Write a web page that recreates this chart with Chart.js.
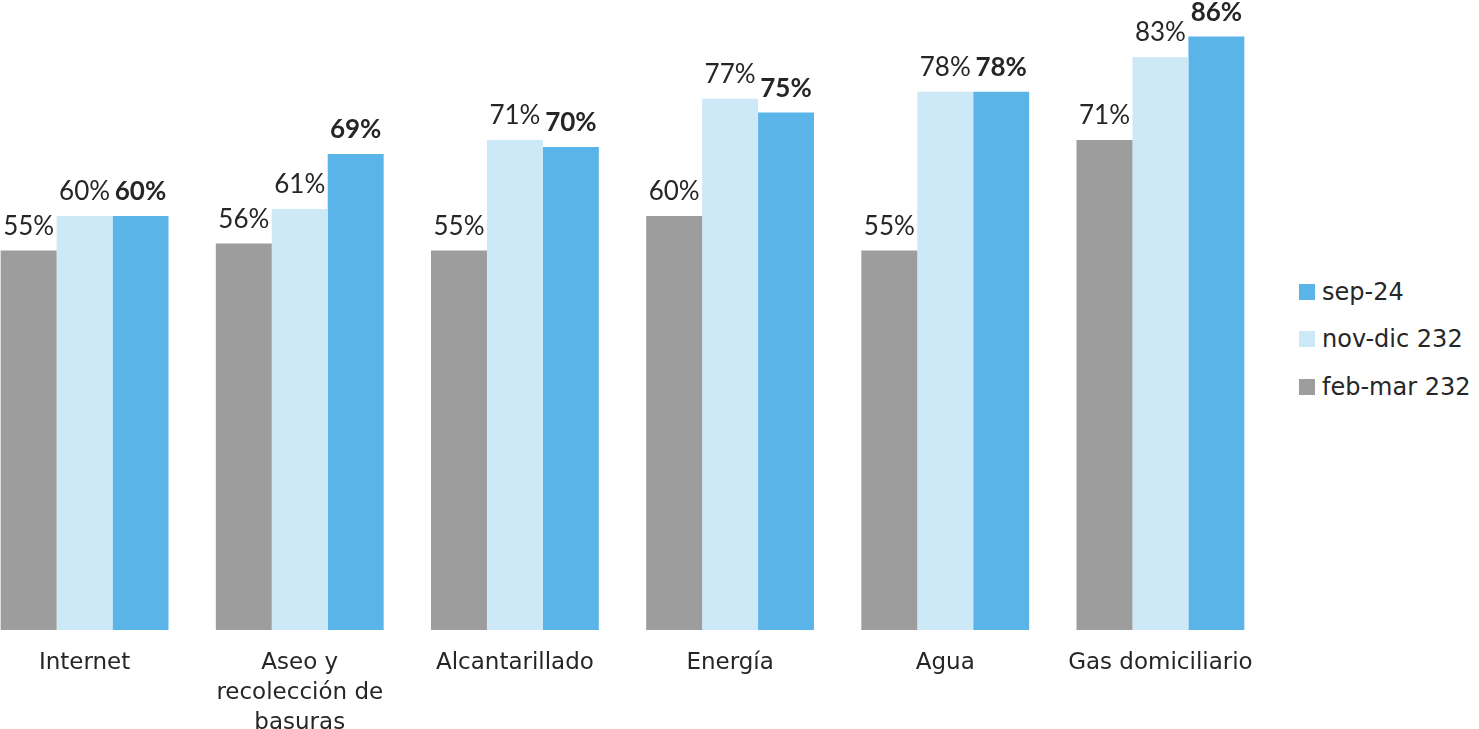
<!DOCTYPE html>
<html>
<head>
<meta charset="utf-8">
<script src="https://cdn.jsdelivr.net/npm/chart.js@4"></script>
<style>
  body { margin: 0; width: 1479px; height: 729px; background: #fff; overflow: hidden; position: relative; font-family: "DejaVu Sans", sans-serif; }
  #wrap { position: absolute; left: -23px; top: 0; }
  #legend { position: absolute; left: 1299px; top: 284px; color: #262626; font-size: 24px; }
  .item { display: flex; align-items: center; height: 47.5px; margin-top: -16px; margin-bottom: 16px; white-space: nowrap; }
  .item span.box { width: 16px; height: 16px; margin-right: 7px; display: inline-block; flex: none; }
</style>
</head>
<body>
<div id="wrap"><canvas id="chart" width="1291" height="729"></canvas></div>
<div id="legend"></div>
<script>
const categories = ['Internet', ['Aseo y', 'recolección de', 'basuras'], 'Alcantarillado', 'Energía', 'Agua', 'Gas domiciliario'];
const seriesNames = ['feb-mar 232', 'nov-dic 232', 'sep-24'];
const febMar = [55, 56, 55, 60, 55, 71];
const novDic = [60, 61, 71, 77, 78, 83];
const sep24 = [60, 69, 70, 75, 78, 86];
const colors = ['#9d9d9d', '#cde8f7', '#5ab4e8'];

// etiquetas de valor encima de cada barra
const valueLabels = {
    id: 'valueLabels',
    afterDatasetsDraw(chart) {
        const ctx = chart.ctx;
        ctx.save();
        ctx.fillStyle = '#262626';
        ctx.textAlign = 'center';
        ctx.textBaseline = 'alphabetic';
        chart.data.datasets.forEach((ds, i) => {
            ctx.font = (i === 2 ? 'bold ' : '') + '26px Lato';
            chart.getDatasetMeta(i).data.forEach((bar, j) => {
                ctx.fillText(ds.data[j] + '%', bar.x, bar.y - 16);
            });
        });
        ctx.restore();
    }
};

const chart = new Chart(document.getElementById('chart').getContext('2d'), {
    type: 'bar',
    data: {
        labels: categories,
        datasets: [febMar, novDic, sep24].map((d, i) => ({
            label: seriesNames[i],
            data: d,
            backgroundColor: colors[i],
            categoryPercentage: 0.78,
            barPercentage: 1.0
        }))
    },
    options: {
        responsive: false,
        animation: false,
        layout: { padding: { top: 9, left: 0, right: 0, bottom: 0 } },
        plugins: { legend: { display: false }, tooltip: { enabled: false } },
        scales: {
            x: {
                grid: { display: false, drawTicks: false },
                border: { display: false },
                ticks: {
                    color: '#262626',
                    font: { family: 'DejaVu Sans', size: 23, lineHeight: 1.3 },
                    padding: 18,
                    maxRotation: 0,
                    autoSkip: false
                },
                afterFit: s => { s.height = 99; s.paddingLeft = 0; s.paddingRight = 0; }
            },
            y: {
                display: false,
                min: 0,
                max: 90
            }
        }
    },
    plugins: [valueLabels]
});

// leyenda en orden inverso, como en la figura
const legend = document.getElementById('legend');
[2, 1, 0].forEach(i => {
    const div = document.createElement('div');
    div.className = 'item';
    div.innerHTML = '<span class="box" style="background:' + colors[i] + '"></span>' + seriesNames[i];
    legend.appendChild(div);
});
</script>
</body>
</html>
